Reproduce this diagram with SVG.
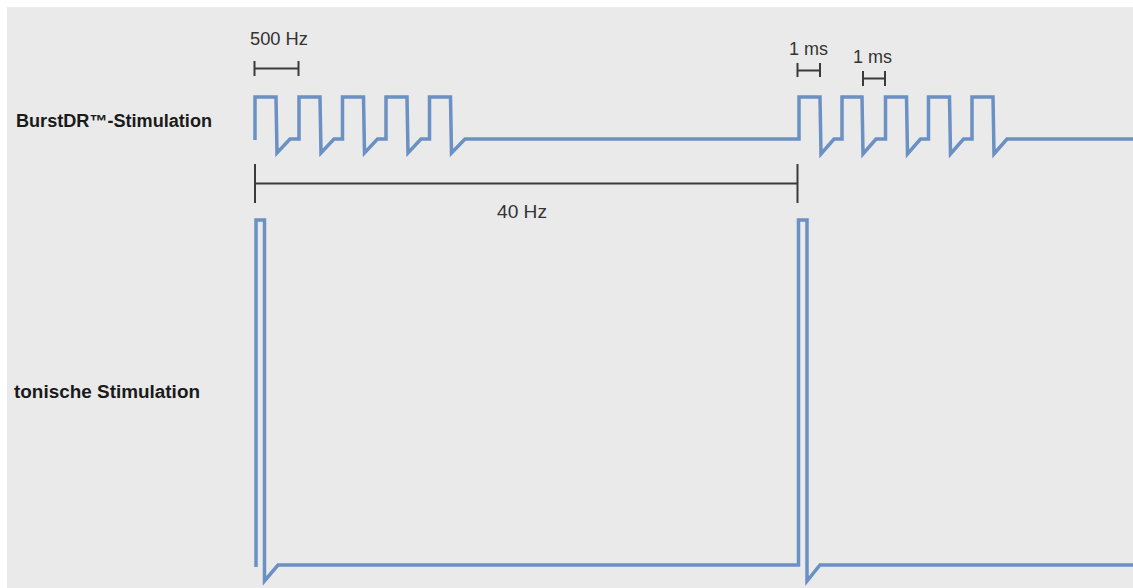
<svg xmlns="http://www.w3.org/2000/svg" width="1133" height="588" viewBox="0 0 1133 588">
<style>
.bg{fill:#eaeaea}
.sig{fill:none;stroke:#6b90c4;stroke-width:3.5;stroke-linejoin:miter}
.bar{fill:none;stroke:#3a3a3a;stroke-width:2}
.lbl{font-family:"Liberation Sans",Arial,sans-serif;font-weight:bold;font-size:17.5px;fill:#1a1a1a}
.dim{font-family:"Liberation Sans",Arial,sans-serif;font-size:18px;fill:#333}
</style>
<rect width="1133" height="588" fill="#ffffff"/>
<rect class="bg" x="7" y="7" width="1126" height="581"/>
<g id="label-burst"><text class="lbl" x="16" y="127" textLength="196" lengthAdjust="spacingAndGlyphs">BurstDR™-Stimulation</text></g>
<g id="label-tonic"><text class="lbl" x="14" y="398" textLength="186" lengthAdjust="spacingAndGlyphs">tonische Stimulation</text></g>
<g id="burst-signal">
<path class="sig" d="M255,140 V97 H276 L277,153 L290,139 H299 V97 H320 L321,153 L334,139 H342.5 V97 H363.5 L364.5,153 L377.5,139 H386 V97 H407 L408,153 L421,139 H429.5 V97 H450.5 L451.5,153 L465,139 H799 V97 H820 L821,154 L834,139 H842 V97 H862 L863,154 L876,139 H885.5 V97 H906.5 L907.5,154 L920.5,139 H928.5 V97 H949.5 L950.5,154 L963.5,139 H972 V97 H993 L994,154 L1007,139 H1133"/>
</g>
<g id="tonic-signal">
<path class="sig" d="M256,567 V220 H264.5 V581 L278,565 H798.5 V220 H807 V581 L820,565 H1133"/>
</g>
<g id="connectors">
<path class="bar" d="M254.5,68.5 H298.5 M254.5,61 V76 M298.5,61 V76"/>
<path class="bar" d="M797.5,70.5 H820 M797.5,63 V77 M820,63 V77"/>
<path class="bar" d="M863,78.5 H885 M863,71 V86 M885,71 V86"/>
<path class="bar" d="M255,183.5 H797.5 M255,164 V203 M797.5,164 V203"/>
</g>
<g id="dim-labels">
<text class="dim" x="250" y="45" textLength="58" lengthAdjust="spacingAndGlyphs">500 Hz</text>
<text class="dim" x="789" y="55" textLength="39" lengthAdjust="spacingAndGlyphs">1 ms</text>
<text class="dim" x="853" y="63" textLength="39" lengthAdjust="spacingAndGlyphs">1 ms</text>
<text class="dim" x="497" y="218" textLength="50" lengthAdjust="spacingAndGlyphs">40 Hz</text>
</g>
</svg>
